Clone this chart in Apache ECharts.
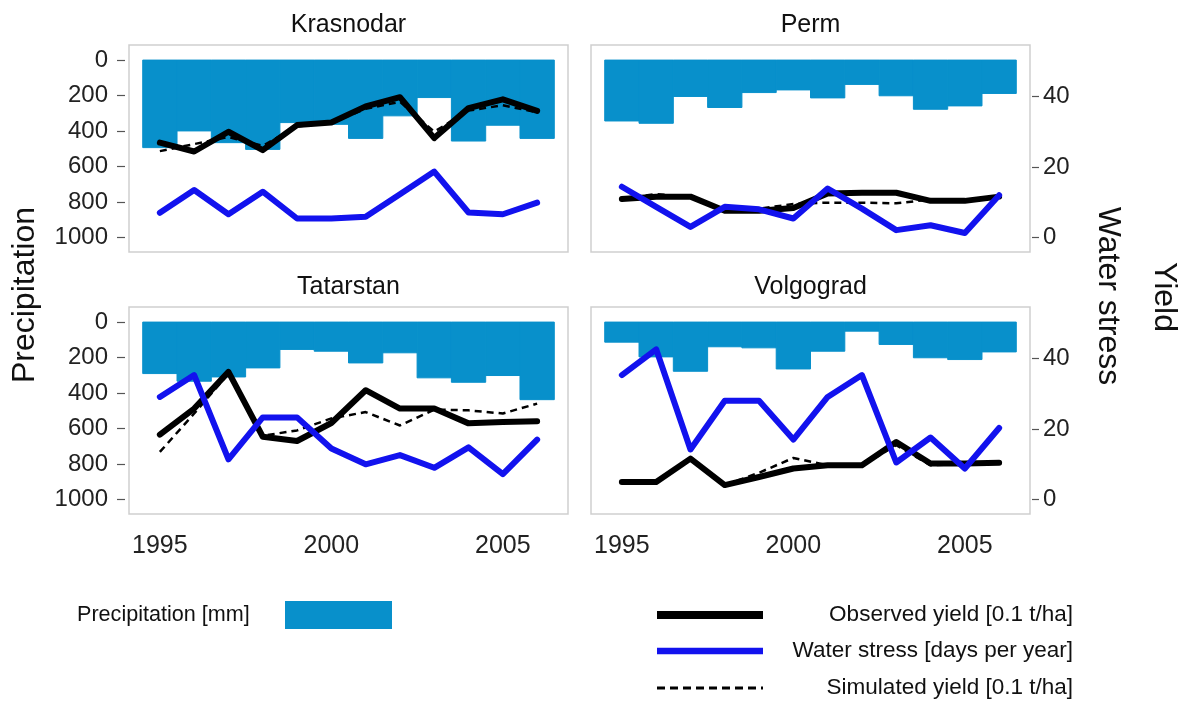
<!DOCTYPE html>
<html>
<head>
<meta charset="utf-8">
<script src="https://cdn.jsdelivr.net/npm/echarts@6/dist/echarts.min.js"></script>
<style>
html,body{margin:0;padding:0;background:#fff;}
#chart{width:1180px;height:702px;}
</style>
</head>
<body>
<div id="chart"></div>
<script>
// ---------------- data ----------------
const years = [1995,1996,1997,1998,1999,2000,2001,2002,2003,2004,2005,2006];
const regions = ['Krasnodar','Perm','Tatarstan','Volgograd'];

const krasnodarPrecip = [493,399,465,503,352,362,441,314,211,456,367,441];
const krasnodarObs    = [26.9,24.4,30.0,24.8,31.9,32.6,37.2,39.8,28.2,36.7,39.2,35.9];
const krasnodarSim    = [24.5,26.5,28.5,26.0,31.5,32.5,36.5,38.5,30.0,36.0,37.5,35.5];
const krasnodarStress = [7.0,13.5,6.6,13.0,5.4,5.4,5.9,12.3,18.7,7.1,6.6,9.9];

const permPrecip = [343,356,205,267,183,168,213,137,201,277,258,188];
const permObs    = [10.9,11.6,11.6,7.6,7.6,8.4,12.5,12.7,12.7,10.4,10.4,11.6];
const permSim    = [11.1,12.3,11.6,7.6,8.2,9.5,9.9,9.9,9.7,10.8,10.6,11.6];
const permStress = [14.4,8.7,3.0,8.7,8.0,5.4,13.9,8.2,2.1,3.5,1.3,12.0];

const tatarstanPrecip = [290,333,309,258,154,164,230,173,314,339,301,437];
const tatarstanObs    = [18.4,25.8,36.2,17.8,16.6,21.7,31.0,25.8,25.8,21.6,22.0,22.2];
const tatarstanSim    = [13.5,24.4,35.7,18.1,19.6,23.0,24.8,21.0,25.5,25.3,24.4,27.2];
const tatarstanStress = [29.1,35.3,11.4,23.3,23.3,14.5,10.0,12.6,9.0,14.8,7.2,17.0];

const volgogradPrecip = [113,196,277,139,145,264,164,51,126,201,211,168];
const volgogradObs    = [5.0,5.0,11.6,4.1,6.4,8.8,9.7,9.7,16.3,10.2,10.2,10.4];
const volgogradSim    = [5.0,5.0,11.6,4.1,7.6,11.8,9.7,9.7,15.4,9.7,10.2,10.4];
const volgogradStress = [35.3,42.6,14.2,28.0,28.0,17.0,29.1,35.3,10.5,17.6,8.8,20.3];

const precipTicks = [0,200,400,600,800,1000];
const yieldTicks = [0,20,40];
const yearTicks = [1995,2000,2005];

const panels = [
  {name:'Krasnodar', precip:krasnodarPrecip, obs:krasnodarObs, sim:krasnodarSim, stress:krasnodarStress},
  {name:'Perm', precip:permPrecip, obs:permObs, sim:permSim, stress:permStress},
  {name:'Tatarstan', precip:tatarstanPrecip, obs:tatarstanObs, sim:tatarstanSim, stress:tatarstanStress},
  {name:'Volgograd', precip:volgogradPrecip, obs:volgogradObs, sim:volgogradSim, stress:volgogradStress}
];

// ---------------- layout/style ----------------
const FONT = "'Liberation Sans', Arial, sans-serif";
const BAR = '#0890CB';
const BLUE = '#1212EE';
const gridPos = [
  {left:129, top:45, width:439, height:207},
  {left:591, top:45, width:439, height:207},
  {left:129, top:307, width:439, height:207},
  {left:591, top:307, width:439, height:207}
];

const grids = [], xAxes = [], yAxes = [], series = [], graphics = [];
const zip = (a, b) => a.map((v, i) => [v, b[i]]);
const plain = v => String(v);

panels.forEach((p, i) => {
  const g = gridPos[i];
  const isLeft = (i % 2 === 0), isBottom = (i >= 2);
  grids.push(Object.assign({show:true, borderColor:'#cfcfcf', borderWidth:1.5, backgroundColor:'#fff', containLabel:false}, g));
  xAxes.push({
    type:'value', gridIndex:i, min:1994.1, max:2006.9, position:'bottom', offset:1,
    axisLine:{show:false}, splitLine:{show:false},
    axisTick:{show:isBottom, length:9, lineStyle:{color:'#555', width:1.2}, customValues:yearTicks},
    axisLabel:{show:isBottom, customValues:yearTicks, formatter:plain, fontSize:25, color:'#222', fontFamily:FONT, margin:19}
  });
  yAxes.push({
    type:'value', gridIndex:i, inverse:true, min:-85, max:1081, position:'left', offset:4,
    axisLine:{show:false}, splitLine:{show:false},
    axisTick:{show:isLeft, length:8, lineStyle:{color:'#555', width:1.2}, customValues:precipTicks},
    axisLabel:{show:isLeft, customValues:precipTicks, formatter:plain, fontSize:24, color:'#222', fontFamily:FONT, margin:17}
  });
  yAxes.push({
    type:'value', gridIndex:i, min:-4.1, max:54.6, position:'right', offset:2,
    axisLine:{show:false}, splitLine:{show:false},
    axisTick:{show:!isLeft, length:7, lineStyle:{color:'#555', width:1.2}, customValues:yieldTicks},
    axisLabel:{show:!isLeft, customValues:yieldTicks, formatter:plain, fontSize:24, color:'#222', fontFamily:FONT, margin:11}
  });
  series.push({
    type:'custom', name:'Precipitation [mm]', xAxisIndex:i, yAxisIndex:2*i,
    data: zip(years, p.precip), encode:{x:0, y:1}, z:1,
    renderItem: function(params, api){
      const x = api.value(0), v = api.value(1);
      const a = api.coord([x - 0.5, 0]);
      const b = api.coord([x + 0.5, v]);
      return {type:'rect', shape:{x:a[0], y:a[1], width:b[0]-a[0], height:b[1]-a[1]},
        style:{fill:BAR, stroke:BAR, lineWidth:1}};
    }
  });
  series.push({type:'line', name:'Observed yield', xAxisIndex:i, yAxisIndex:2*i+1, data:zip(years,p.obs),
    showSymbol:false, symbol:'none', z:3, lineStyle:{color:'#000', width:6, join:'round', cap:'round'}});
  series.push({type:'line', name:'Simulated yield', xAxisIndex:i, yAxisIndex:2*i+1, data:zip(years,p.sim),
    showSymbol:false, symbol:'none', z:4, lineStyle:{color:'#000', width:2.5, type:[7,5]}});
  series.push({type:'line', name:'Water stress', xAxisIndex:i, yAxisIndex:2*i+1, data:zip(years,p.stress),
    showSymbol:false, symbol:'none', z:5, lineStyle:{color:BLUE, width:6, join:'round', cap:'round'}});
  graphics.push({type:'text', x:g.left + g.width/2, y:g.top - 20,
    style:{text:p.name, font:'25px ' + FONT, fill:'#111', textAlign:'center', textVerticalAlign:'middle'}});
});

// axis titles
graphics.push({type:'text', x:25, y:295, rotation:Math.PI/2,
  style:{text:'Precipitation', font:'32px ' + FONT, fill:'#111', textAlign:'center', textVerticalAlign:'middle'}});
graphics.push({type:'text', x:1108, y:296, rotation:-Math.PI/2,
  style:{text:'Water stress', font:'32px ' + FONT, fill:'#111', textAlign:'center', textVerticalAlign:'middle'}});
graphics.push({type:'text', x:1164, y:297, rotation:-Math.PI/2,
  style:{text:'Yield', font:'32px ' + FONT, fill:'#111', textAlign:'center', textVerticalAlign:'middle'}});

// legend
graphics.push({type:'text', x:77, y:615, style:{text:'Precipitation [mm]', font:'21.6px ' + FONT, fill:'#111', textAlign:'left', textVerticalAlign:'middle'}});
graphics.push({type:'rect', shape:{x:285, y:601, width:107, height:28}, style:{fill:BAR}});
graphics.push({type:'line', shape:{x1:657, y1:615, x2:763, y2:615}, style:{stroke:'#000', lineWidth:8}});
graphics.push({type:'line', shape:{x1:657, y1:651, x2:763, y2:651}, style:{stroke:BLUE, lineWidth:6.5}});
graphics.push({type:'line', shape:{x1:657, y1:688, x2:763, y2:688}, style:{stroke:'#000', lineWidth:3, lineDash:[8,5]}});
graphics.push({type:'text', x:1073, y:615, style:{text:'Observed yield [0.1 t/ha]', font:'22.5px ' + FONT, fill:'#111', textAlign:'right', textVerticalAlign:'middle'}});
graphics.push({type:'text', x:1073, y:651, style:{text:'Water stress [days per year]', font:'22.5px ' + FONT, fill:'#111', textAlign:'right', textVerticalAlign:'middle'}});
graphics.push({type:'text', x:1073, y:688, style:{text:'Simulated yield [0.1 t/ha]', font:'22.5px ' + FONT, fill:'#111', textAlign:'right', textVerticalAlign:'middle'}});

const chart = echarts.init(document.getElementById('chart'), null, {renderer:'canvas'});
chart.setOption({
  backgroundColor:'#fff',
  animation:false,
  textStyle:{fontFamily:FONT},
  grid:grids, xAxis:xAxes, yAxis:yAxes, series:series, graphic:graphics
});
</script>
</body>
</html>
